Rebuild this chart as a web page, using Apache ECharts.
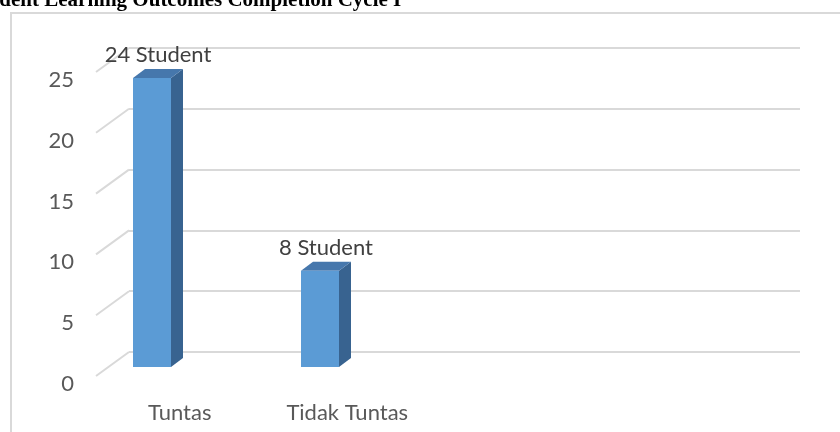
<!DOCTYPE html>
<html>
<head>
<meta charset="utf-8">
<script src="https://cdn.jsdelivr.net/npm/echarts@6/dist/echarts.min.js"></script>
<style>html,body{margin:0;padding:0;background:#fff}#c{width:840px;height:432px}</style>
</head>
<body>
<div id="c"></div>
<script>
var titleText = 'Student Learning Outcomes Completion Cycle I';
var categories = ['Tuntas', 'Tidak Tuntas', '', ''];
var values = [24, 8];
var labelSuffix = ' Student';
var yTicks = [0, 5, 10, 15, 20, 25];
var yMin = 0, yMax = 25, yStep = 5;

var chart = echarts.init(document.getElementById('c'), null, {renderer: 'canvas'});
var FONT = 'Lato, "Open Sans", sans-serif';
var FS = 22;
var DEPTH_X = 33, DEPTH_Y = 24;      // floor/wall depth
var BAR_W = 38, SIDE_X = 12, SIDE_Y = 9;

var barData = values.map(function (v, i) { return [i, v]; });
var tickData = yTicks.map(function (v) { return [0, v]; });

chart.setOption({
  animation: false,
  graphic: [
    {type: 'rect', shape: {x: 11, y: 13, width: 1000, height: 1000}, style: {fill: 'none', stroke: '#d9d9d9', lineWidth: 2}, z: 0},
    {type: 'text', left: -31, top: -10, style: {text: titleText, font: 'bold 21px "Liberation Serif", serif', fill: '#000'}, z: 10}
  ],
  grid: [
    {left: 129, top: 48, width: 671, height: 304},
    {left: 96, top: 72, width: 670, height: 304},
    {left: 68, top: 66, width: 672, height: 301},
    {left: 96, top: 80, width: 670, height: 304}
  ],
  xAxis: [
    {type: 'category', gridIndex: 0, data: categories, show: false},
    {type: 'category', gridIndex: 1, data: categories,
      axisLine: {show: false}, axisTick: {show: false},
      axisLabel: {color: '#595959', fontSize: FS, fontFamily: FONT, margin: 26, interval: 0}},
    {type: 'category', gridIndex: 2, data: categories, show: false},
    {type: 'category', gridIndex: 3, data: categories, show: false}
  ],
  yAxis: [
    {type: 'value', gridIndex: 0, min: yMin, max: yMax, interval: yStep,
      axisLine: {show: false}, axisTick: {show: false}, axisLabel: {show: false},
      splitLine: {show: true, lineStyle: {color: '#d9d9d9', width: 2}}},
    {type: 'value', gridIndex: 1, min: yMin, max: yMax, interval: yStep,
      axisLine: {show: false}, axisTick: {show: false}, splitLine: {show: false}, axisLabel: {show: false}},
    {type: 'value', gridIndex: 2, min: yMin, max: yMax, interval: yStep, show: false, splitLine: {show: false}},
    {type: 'value', gridIndex: 3, min: yMin, max: yMax, interval: yStep,
      axisLine: {show: false}, axisTick: {show: false}, splitLine: {show: false},
      axisLabel: {color: '#595959', fontSize: FS, fontFamily: FONT, margin: 22}}
  ],
  series: [
    {
      type: 'custom', xAxisIndex: 1, yAxisIndex: 1, data: tickData, silent: true,
      renderItem: function (params, api) {
        var y = api.coord([0, api.value(1)])[1];
        var x0 = params.coordSys.x;
        return {type: 'line', shape: {x1: x0, y1: y, x2: x0 + DEPTH_X, y2: y - DEPTH_Y},
          style: {stroke: '#d9d9d9', lineWidth: 2}};
      }
    },
    {
      type: 'custom', xAxisIndex: 2, yAxisIndex: 2, data: barData, z: 5,
      renderItem: function (params, api) {
        var cat = api.value(0), v = api.value(1);
        var p = api.coord([cat, v]);
        var b = api.coord([cat, 0]);
        var cx = p[0], top = p[1], bot = b[1];
        var l = cx - BAR_W / 2, r = cx + BAR_W / 2;
        return {type: 'group', children: [
          {type: 'polygon', shape: {points: [[r, top], [r + SIDE_X, top - SIDE_Y], [r + SIDE_X, bot - SIDE_Y], [r, bot]]},
            style: {fill: '#386390'}},
          {type: 'polygon', shape: {points: [[l, top], [r, top], [r + SIDE_X, top - SIDE_Y], [l + SIDE_X, top - SIDE_Y]]},
            style: {fill: '#4677AC'}},
          {type: 'rect', shape: {x: l, y: top, width: BAR_W, height: bot - top},
            style: {fill: '#5B9BD5'}},
          {type: 'text', style: {text: v + labelSuffix, x: cx + 6, y: top - SIDE_Y - 14,
            align: 'center', verticalAlign: 'middle', font: FS + 'px ' + FONT, fill: '#404040'}}
        ]};
      }
    }
  ]
});
</script>
</body>
</html>
